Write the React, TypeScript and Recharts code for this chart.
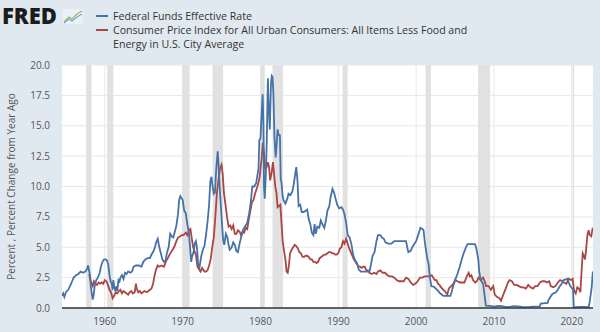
import React from "react"
import { CartesianGrid, Line, LineChart, ReferenceArea, XAxis, YAxis } from "recharts"

const fedFundsYears = [
  1954.5, 1954.65, 1954.8, 1955.0, 1955.3, 1955.6, 1955.8, 1956.0, 1956.3, 1956.6, 1956.9, 1957.2, 1957.5, 1957.7,
  1957.85, 1958.0, 1958.1, 1958.2, 1958.3, 1958.45, 1958.55, 1958.7, 1958.9, 1959.1, 1959.35, 1959.5, 1959.7, 1959.9,
  1960.1, 1960.3, 1960.45, 1960.6, 1960.75, 1960.9, 1961.0, 1961.1, 1961.2, 1961.35, 1961.5, 1961.6, 1961.75, 1961.9,
  1962.0, 1962.2, 1962.4, 1962.6, 1962.8, 1963.0, 1963.3, 1963.5, 1963.7, 1964.0, 1964.4, 1964.7, 1964.95, 1965.2,
  1965.5, 1965.8, 1966.0, 1966.2, 1966.4, 1966.6, 1966.8, 1967.0, 1967.2, 1967.4, 1967.6, 1967.8, 1968.0, 1968.2,
  1968.4, 1968.6, 1968.8, 1969.0, 1969.2, 1969.4, 1969.55, 1969.7, 1969.9, 1970.0, 1970.2, 1970.4, 1970.6, 1970.8,
  1970.95, 1971.1, 1971.2, 1971.4, 1971.55, 1971.7, 1971.85, 1972.0, 1972.15, 1972.4, 1972.6, 1972.8, 1973.0, 1973.2,
  1973.4, 1973.55, 1973.7, 1973.85, 1974.0, 1974.15, 1974.3, 1974.5, 1974.6, 1974.75, 1974.9, 1975.05, 1975.2, 1975.35,
  1975.55, 1975.75, 1975.9, 1976.05, 1976.3, 1976.5, 1976.7, 1976.9, 1977.1, 1977.35, 1977.6, 1977.8, 1978.0, 1978.3,
  1978.55, 1978.75, 1978.95, 1979.2, 1979.45, 1979.6, 1979.75, 1979.85, 1980.0, 1980.15, 1980.28, 1980.38, 1980.45,
  1980.55, 1980.68, 1980.8, 1980.95, 1981.05, 1981.2, 1981.35, 1981.45, 1981.55, 1981.65, 1981.8, 1981.95, 1982.05,
  1982.2, 1982.35, 1982.5, 1982.6, 1982.7, 1982.85, 1982.95, 1983.2, 1983.45, 1983.6, 1983.85, 1984.1, 1984.3, 1984.5,
  1984.6, 1984.75, 1984.9, 1985.1, 1985.3, 1985.55, 1985.8, 1986.0, 1986.2, 1986.4, 1986.6, 1986.8, 1986.95, 1987.1,
  1987.3, 1987.55, 1987.75, 1987.95, 1988.2, 1988.4, 1988.6, 1988.85, 1989.0, 1989.25, 1989.45, 1989.65, 1989.85,
  1990.1, 1990.4, 1990.6, 1990.8, 1991.0, 1991.2, 1991.45, 1991.7, 1991.9, 1992.1, 1992.4, 1992.6, 1992.9, 1993.3,
  1993.7, 1994.0, 1994.2, 1994.4, 1994.65, 1994.9, 1995.1, 1995.4, 1995.6, 1995.85, 1996.05, 1996.4, 1996.8, 1997.2,
  1997.6, 1998.0, 1998.4, 1998.7, 1998.85, 1999.0, 1999.3, 1999.5, 1999.8, 2000.0, 2000.2, 2000.4, 2000.55, 2000.8,
  2000.95, 2001.1, 2001.3, 2001.45, 2001.6, 2001.75, 2001.95, 2002.3, 2002.85, 2003.0, 2003.5, 2004.0, 2004.4, 2004.55,
  2004.8, 2005.0, 2005.3, 2005.6, 2005.85, 2006.1, 2006.4, 2006.6, 2007.0, 2007.55, 2007.7, 2007.85, 2008.0, 2008.1,
  2008.3, 2008.6, 2008.8, 2008.95, 2009.5, 2010.0, 2010.5, 2011.0, 2011.6, 2012.0, 2012.6, 2013.0, 2013.6, 2014.0,
  2014.6, 2015.0, 2015.9, 2016.0, 2016.9, 2017.0, 2017.25, 2017.5, 2017.95, 2018.2, 2018.45, 2018.7, 2018.95, 2019.45,
  2019.6, 2019.8, 2020.05, 2020.15, 2020.25, 2021.0, 2021.5, 2022.15, 2022.25, 2022.35, 2022.45, 2022.55, 2022.62,
  2022.7,
]

const fedFundsRate = [
  1.0, 1.2, 0.9, 1.3, 1.5, 1.9, 2.2, 2.5, 2.7, 2.8, 3.0, 2.9, 3.0, 3.2,
  3.5, 3.0, 2.7, 1.8, 1.3, 0.7, 1.0, 1.8, 2.3, 2.5, 2.9, 3.4, 3.8, 4.0,
  4.0, 3.9, 3.5, 2.7, 2.2, 2.0, 1.5, 2.3, 1.8, 1.4, 1.8, 1.4, 2.3, 2.2,
  2.5, 2.7, 2.4, 2.9, 2.8, 3.0, 2.9, 3.0, 3.4, 3.5, 3.5, 3.4, 3.8, 4.0,
  4.1, 4.1, 4.4, 4.6, 4.9, 5.4, 5.7, 5.0, 4.5, 4.0, 3.8, 3.9, 4.6, 5.0,
  6.1, 5.9, 5.8, 6.3, 6.8, 7.7, 8.9, 9.2, 9.0, 8.9, 8.0, 7.8, 6.9, 6.2,
  5.0, 3.8, 4.2, 4.6, 5.3, 5.5, 4.9, 3.5, 3.3, 4.3, 4.8, 5.1, 6.0, 7.1,
  8.5, 10.4, 10.8, 10.0, 9.4, 9.5, 11.3, 12.9, 12.0, 10.0, 8.5, 7.0, 5.6, 5.2,
  6.1, 5.8, 5.2, 4.8, 5.0, 5.4, 5.2, 4.7, 4.6, 5.4, 6.0, 6.5, 6.7, 7.0,
  7.8, 8.7, 10.0, 10.0, 10.3, 10.9, 11.5, 13.8, 14.0, 16.0, 17.6, 15.0, 10.0,
  9.0, 10.9, 13.5, 18.9, 16.6, 14.7, 18.5, 19.1, 19.0, 17.8, 14.0, 12.4, 13.2,
  14.7, 14.2, 14.2, 10.6, 10.3, 9.2, 8.9, 8.6, 9.0, 9.4, 9.3, 9.6, 10.3, 11.2,
  11.6, 10.5, 8.4, 8.5, 7.9, 7.9, 8.0, 8.1, 7.3, 6.9, 6.2, 6.0, 6.9, 6.1,
  6.7, 6.6, 7.2, 6.9, 6.6, 7.2, 8.0, 8.4, 9.1, 9.8, 9.5, 9.0, 8.5,
  8.2, 8.3, 8.1, 7.7, 7.0, 6.0, 5.8, 5.2, 4.4, 4.0, 3.7, 3.2, 3.0, 3.0,
  3.0, 3.0, 3.6, 4.3, 4.6, 5.5, 6.0, 6.0, 5.8, 5.7, 5.4, 5.3, 5.3, 5.5,
  5.5, 5.5, 5.5, 5.5, 5.0, 4.6, 4.7, 5.0, 5.3, 5.5, 5.9, 6.3, 6.6, 6.5,
  6.4, 5.5, 4.6, 4.0, 3.6, 2.6, 1.8, 1.75, 1.4, 1.25, 1.0, 1.0, 1.0, 1.3,
  1.9, 2.3, 2.8, 3.4, 4.0, 4.5, 5.0, 5.25, 5.25, 5.25, 5.0, 4.5, 3.9, 3.0,
  2.3, 2.0, 1.0, 0.2, 0.18, 0.12, 0.18, 0.16, 0.07, 0.1, 0.15, 0.14, 0.09, 0.07,
  0.09, 0.11, 0.13, 0.37, 0.41, 0.65, 0.9, 1.15, 1.3, 1.5, 1.8, 2.0, 2.3, 2.4,
  2.1, 1.8, 1.6, 1.58, 0.05, 0.09, 0.1, 0.08, 0.33, 0.8, 1.2, 1.7, 2.3,
  3.0,
]

const coreCpiYears = [
  1958.0, 1958.1, 1958.3, 1958.45, 1958.6, 1958.8, 1959.0, 1959.2, 1959.4, 1959.6, 1959.8, 1960.0, 1960.2, 1960.4,
  1960.6, 1960.8, 1961.0, 1961.2, 1961.4, 1961.6, 1961.8, 1962.0, 1962.2, 1962.4, 1962.6, 1962.8, 1963.0, 1963.2,
  1963.4, 1963.6, 1963.85, 1964.0, 1964.1, 1964.3, 1964.5, 1964.7, 1964.9, 1965.1, 1965.4, 1965.6, 1965.8, 1966.0,
  1966.2, 1966.4, 1966.6, 1966.8, 1967.0, 1967.3, 1967.6, 1967.9, 1968.1, 1968.4, 1968.7, 1968.9, 1969.2, 1969.4,
  1969.7, 1969.9, 1970.1, 1970.4, 1970.6, 1970.8, 1971.0, 1971.2, 1971.35, 1971.5, 1971.7, 1971.9, 1972.0, 1972.3,
  1972.5, 1972.8, 1973.0, 1973.2, 1973.4, 1973.6, 1973.8, 1974.0, 1974.2, 1974.4, 1974.6, 1974.8, 1975.0, 1975.15,
  1975.3, 1975.5, 1975.7, 1975.9, 1976.1, 1976.3, 1976.5, 1976.7, 1976.9, 1977.1, 1977.3, 1977.5, 1977.7, 1977.9,
  1978.1, 1978.3, 1978.5, 1978.7, 1978.9, 1979.1, 1979.3, 1979.5, 1979.7, 1979.9, 1980.0, 1980.15, 1980.3, 1980.45,
  1980.6, 1980.8, 1980.95, 1981.1, 1981.25, 1981.45, 1981.6, 1981.75, 1981.9, 1982.05, 1982.2, 1982.4, 1982.55, 1982.7,
  1982.85, 1983.0, 1983.2, 1983.35, 1983.5, 1983.65, 1983.8, 1984.0, 1984.2, 1984.4, 1984.6, 1984.8, 1985.0, 1985.2,
  1985.4, 1985.6, 1985.8, 1986.0, 1986.2, 1986.4, 1986.6, 1986.8, 1987.0, 1987.2, 1987.4, 1987.6, 1987.8, 1988.0,
  1988.2, 1988.4, 1988.6, 1988.8, 1989.0, 1989.2, 1989.4, 1989.6, 1989.8, 1990.0, 1990.2, 1990.4, 1990.6, 1990.8,
  1991.0, 1991.2, 1991.4, 1991.6, 1991.8, 1992.0, 1992.2, 1992.4, 1992.6, 1992.8, 1993.0, 1993.2, 1993.4, 1993.6,
  1993.8, 1994.0, 1994.3, 1994.6, 1994.9, 1995.1, 1995.4, 1995.7, 1996.0, 1996.3, 1996.6, 1996.9, 1997.2, 1997.5,
  1997.8, 1998.1, 1998.4, 1998.7, 1999.0, 1999.3, 1999.6, 1999.9, 2000.2, 2000.5, 2000.8, 2001.1, 2001.4, 2001.7,
  2002.0, 2002.2, 2002.4, 2002.6, 2002.8, 2003.0, 2003.2, 2003.5, 2003.8, 2004.0, 2004.2, 2004.5, 2004.8, 2005.0,
  2005.3, 2005.6, 2005.9, 2006.2, 2006.5, 2006.75, 2006.9, 2007.1, 2007.3, 2007.6, 2007.8, 2008.0, 2008.3, 2008.6,
  2008.8, 2009.0, 2009.3, 2009.6, 2009.9, 2010.1, 2010.4, 2010.7, 2010.9, 2011.2, 2011.5, 2011.8, 2012.0, 2012.3,
  2012.6, 2012.9, 2013.2, 2013.5, 2013.8, 2014.1, 2014.4, 2014.7, 2015.0, 2015.3, 2015.6, 2015.9, 2016.2, 2016.5,
  2016.8, 2017.1, 2017.3, 2017.6, 2017.9, 2018.2, 2018.5, 2018.8, 2019.0, 2019.3, 2019.6, 2019.9, 2020.1, 2020.3,
  2020.5, 2020.7, 2020.9, 2021.1, 2021.25, 2021.4, 2021.55, 2021.7, 2021.85, 2022.0, 2022.15, 2022.3, 2022.5, 2022.6,
  2022.7,
]

const coreCpiChange = [
  2.8, 2.4, 2.0, 1.8, 2.2, 2.0, 1.9, 2.1, 2.0, 2.1, 2.0, 2.3, 2.2, 1.9,
  1.5, 1.3, 0.8, 1.0, 1.3, 1.2, 1.4, 1.5, 1.2, 1.4, 1.3, 1.2, 1.1, 1.3,
  1.4, 1.2, 1.3, 2.0, 1.6, 1.3, 1.4, 1.2, 1.3, 1.4, 1.3, 1.4, 1.5, 1.6,
  2.0, 2.7, 3.2, 3.5, 3.4, 3.5, 3.4, 3.9, 4.1, 4.5, 4.8, 5.0, 5.5, 5.8,
  5.9, 6.0, 6.0, 6.2, 6.0, 6.4, 6.5, 5.6, 5.0, 4.7, 4.4, 3.4, 3.3, 3.0,
  3.3, 3.0, 3.0, 3.1, 3.5, 4.0, 5.0, 5.8, 7.5, 9.5, 10.5, 11.5, 11.8, 11.0,
  9.5, 8.5, 7.5, 6.7, 6.8, 6.5, 6.8, 6.1, 6.1, 6.4, 6.3, 6.0, 6.3, 6.2,
  6.6, 6.5, 7.3, 8.0, 8.7, 8.9, 9.4, 9.8, 10.2, 10.8, 11.5, 12.3, 13.6, 12.7,
  11.5, 11.6, 12.0, 11.6, 10.5, 11.2, 12.0, 11.0, 10.0, 9.5, 8.3, 8.4, 8.5, 7.0,
  5.5, 4.8, 4.0, 3.0, 2.9, 3.5, 4.5, 4.8, 5.0, 5.2, 5.1, 4.9, 4.6, 4.5,
  4.2, 4.2, 4.3, 4.3, 4.2, 4.0, 4.0, 3.8, 3.8, 3.7, 3.8, 4.1, 4.2, 4.3,
  4.4, 4.4, 4.5, 4.6, 4.6, 4.5, 4.5, 4.4, 4.4, 4.5, 4.9, 5.0, 5.5, 5.3,
  5.7, 5.3, 4.9, 4.6, 4.3, 4.0, 3.8, 3.6, 3.4, 3.4, 3.3, 3.4, 3.4, 3.1,
  3.1, 2.9, 2.8, 2.9, 2.8, 3.0, 3.1, 2.9, 2.9, 2.7, 2.6, 2.6, 2.5, 2.3,
  2.2, 2.2, 2.2, 2.5, 2.4, 2.1, 1.9, 2.0, 2.2, 2.5, 2.5, 2.6, 2.6, 2.6,
  2.7, 2.5, 2.3, 2.3, 2.0, 1.9, 1.7, 1.5, 1.3, 1.1, 1.6, 1.8, 2.0, 2.3,
  2.2, 2.1, 2.1, 2.1, 2.6, 2.9, 2.6, 2.7, 2.3, 2.1, 2.2, 2.5, 2.3, 2.5,
  2.2, 1.8, 1.8, 1.5, 1.8, 1.1, 0.9, 0.8, 0.6, 1.1, 1.6, 2.1, 2.3, 2.2,
  1.9, 1.9, 1.8, 1.7, 1.7, 1.6, 1.9, 1.7, 1.6, 1.8, 1.8, 2.1, 2.2, 2.2,
  2.1, 2.2, 1.8, 1.7, 1.8, 2.1, 2.3, 2.2, 2.1, 2.0, 2.4, 2.3, 2.4, 1.4,
  1.2, 1.7, 1.6, 1.3, 3.0, 4.5, 4.3, 4.0, 4.9, 6.0, 6.4, 6.0, 5.9, 6.3,
  6.6,
]

const recessionStarts = [1957.6, 1960.3, 1969.95, 1973.85, 1980.05, 1981.55, 1990.55, 2001.2, 2007.95, 2020.1]
const recessionEnds = [1958.3, 1961.1, 1970.9, 1975.2, 1980.55, 1982.9, 1991.2, 2001.9, 2009.5, 2020.3]

const yearTicks = [1960, 1970, 1980, 1990, 2000, 2010, 2020]
const valueTicks = [0, 2.5, 5, 7.5, 10, 12.5, 15, 17.5, 20]

const fedFunds = fedFundsYears.map((x, i) => ({ x, y: fedFundsRate[i] }))
const coreCpi = coreCpiYears.map((x, i) => ({ x, y: coreCpiChange[i] }))

const BLUE = "#4572a7"
const RED = "#aa4643"
const FONT = "'Open Sans', sans-serif"

function FredLogo() {
  return (
    <div style={{ position: "absolute", left: 2, top: 0, height: 31, display: "flex", alignItems: "center" }}>
      <span style={{ fontFamily: FONT, fontWeight: 800, fontSize: 22, color: "#1c1c1c", lineHeight: "31px" }}>
        FRED
      </span>
      <svg width={20} height={15} style={{ marginLeft: 6, marginTop: 1 }}>
        <rect x={0} y={0} width={20} height={15} fill="#eef1f3" />
        <polyline points="1,13 6,8 9,10 14,5 19,2" fill="none" stroke="#8fbf6a" strokeWidth={1.3} />
        <polyline points="1,14 6,10 9,12 14,8 19,5" fill="none" stroke="#7aa2cc" strokeWidth={1.1} />
      </svg>
    </div>
  )
}

function LegendBox() {
  const text = { fontFamily: FONT, fontSize: 10.6, color: "#333", lineHeight: "14px" }
  return (
    <div style={{ position: "absolute", left: 96, top: 9 }}>
      <div style={{ display: "flex", alignItems: "flex-start" }}>
        <div style={{ width: 12, height: 2, background: BLUE, marginTop: 6, marginRight: 5 }} />
        <div style={text}>Federal Funds Effective Rate</div>
      </div>
      <div style={{ display: "flex", alignItems: "flex-start" }}>
        <div style={{ width: 12, height: 2, background: RED, marginTop: 6, marginRight: 5 }} />
        <div style={text}>
          Consumer Price Index for All Urban Consumers: All Items Less Food and
          <br />
          Energy in U.S. City Average
        </div>
      </div>
    </div>
  )
}

export default function App() {
  return (
    <div style={{ position: "fixed", left: 0, top: 0, width: 600, height: 332, background: "#e1e9f0" }}>
      <FredLogo />
      <LegendBox />
      <LineChart
        width={600}
        height={332}
        margin={{ top: 65, right: 7, bottom: 2, left: 0 }}
        style={{ position: "absolute", left: 0, top: 0 }}
      >
        <CartesianGrid fill="#ffffff" stroke="#e8e8e8" verticalValues={yearTicks} horizontalValues={valueTicks} />
        {recessionStarts.map((start, i) => (
          <ReferenceArea
            key={start}
            x1={start}
            x2={recessionEnds[i]}
            y1={0}
            y2={20}
            fill="#e1e1e1"
            fillOpacity={1}
            stroke="none"
            ifOverflow="hidden"
          />
        ))}
        <XAxis
          dataKey="x"
          type="number"
          domain={[1954.5, 2022.72]}
          ticks={yearTicks}
          allowDataOverflow
          height={22}
          tickLine={false}
          axisLine={{ stroke: "#333", strokeWidth: 1.5 }}
          tick={{ fontSize: 10, fill: "#555", fontFamily: FONT }}
          tickMargin={4}
        />
        <YAxis
          type="number"
          domain={[0, 20]}
          ticks={valueTicks}
          width={62}
          axisLine={false}
          tickLine={false}
          tickSize={0}
          tickMargin={12}
          tickFormatter={(v: number) => v.toFixed(1)}
          tick={{ fontSize: 10, fill: "#555", fontFamily: FONT }}
          label={{
            value: "Percent , Percent Change from Year Ago",
            angle: -90,
            position: "insideLeft",
            offset: 11,
            style: { textAnchor: "middle", fontSize: 10, fill: "#555", fontFamily: FONT },
          }}
        />
        <Line
          data={coreCpi}
          dataKey="y"
          type="linear"
          stroke={RED}
          strokeWidth={1.8}
          dot={false}
          isAnimationActive={false}
        />
        <Line
          data={fedFunds}
          dataKey="y"
          type="linear"
          stroke={BLUE}
          strokeWidth={1.8}
          dot={false}
          isAnimationActive={false}
        />
      </LineChart>
    </div>
  )
}
